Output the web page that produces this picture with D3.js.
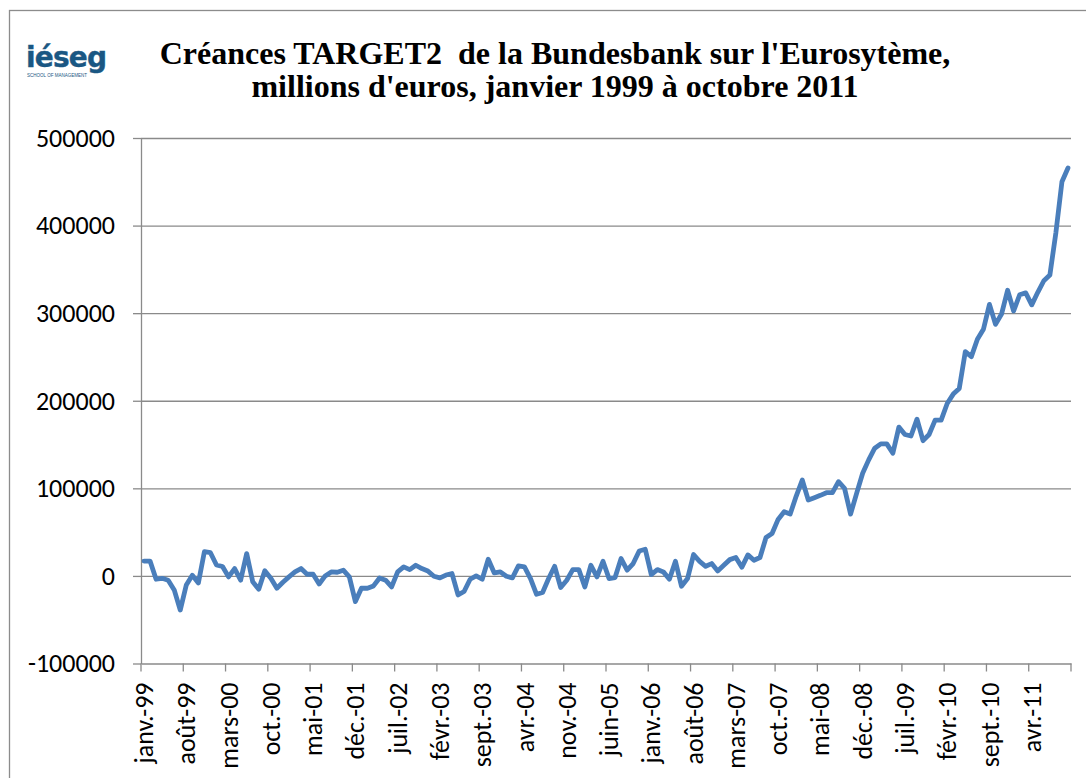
<!DOCTYPE html>
<html>
<head>
<meta charset="utf-8">
<script src="https://cdn.jsdelivr.net/npm/d3@7"></script>
<style>
    body { margin: 0; background: #fff; }
    .grid line { stroke: #8a8a8a; stroke-width: 1.3px; }
    .grid .domain { display: none; }
    .axis path, .axis line { stroke: #8a8a8a; stroke-width: 1.3px; }
    .axis text { font-family: Carlito, Calibri, Lato, sans-serif; font-size: 26px; fill: #000; }
    .title { font-family: "Liberation Serif", "Times New Roman", serif; font-weight: bold; font-size: 32px; fill: #000; white-space: pre; }
    .line { fill: none; stroke: #4a7ebb; stroke-width: 4.8px; stroke-linejoin: round; stroke-linecap: round; }
</style>
</head>
<body>
<svg id="chart"></svg>
<script>
// mois (format Excel mmm-yy)
const monthNames = ["janv.", "févr.", "mars", "avr.", "mai", "juin", "juil.", "août", "sept.", "oct.", "nov.", "déc."]
const years = ["99", "00", "01", "02", "03", "04", "05", "06", "07", "08", "09", "10", "11"]

// créances TARGET2, millions d'euros, janv. 1999 -> oct. 2011
const claims = [
    17000, 17000, -3800, -2700, -5000, -16000, -39000, -10300, 700, -8000, 27700, 26500,
    12500, 10700, -1100, 8400, -4900, 25500, -6700, -15200, 5900, -2700, -14100, -7300,
    -1100, 4600, 8400, 1900, 1900, -9200, 0, 4600, 4200, 6500, -1100, -29300,
    -14100, -14100, -11400, -2300, -4900, -12600, 4600, 10300, 7200, 12200, 8400, 5700,
    -400, -2300, 1000, 2700, -21700, -17800, -3800, 0, -3800, 19000, 3400, 4600,
    -400, -2300, 11400, 10300, -3000, -21000, -19000, -3000, 11000, -13300, -4900, 7200,
    7200, -12600, 12200, -1100, 16700, -3000, -1900, 19800, 6500, 14100, 28500, 30400,
    1500, 7200, 4600, -3800, 16700, -11800, -3000, 24400, 16700, 11000, 14100, 5700,
    12200, 18600, 21000, 10000, 24000, 17900, 21000, 43900, 48500, 64500, 73300, 70600,
    91200, 109500, 86600, 89300, 92000, 95000, 95000, 107600, 100000, 70600, 94300, 117200,
    132500, 145800, 150800, 150800, 140100, 169900, 161500, 159700, 179000, 154400, 161500, 177900,
    177900, 196900, 207600, 214100, 256100, 250400, 270200, 281700, 310000, 287200, 299000, 326200,
    302500, 321000, 323200, 309500, 323800, 337000, 343500, 392000, 450000, 465800
]

const yTicks = [-100000, 0, 100000, 200000, 300000, 400000, 500000]
const labelStep = 7

const categories = []
years.forEach(y => {
    monthNames.forEach(m => {
        if (categories.length < claims.length) categories.push(m + "-" + y)
    })
})

const width = 1086
const height = 778

const svg = d3.select("#chart")
    .attr("width", width)
    .attr("height", height)

// cadre
svg.append("rect")
    .attr("x", 9.5)
    .attr("y", 10.5)
    .attr("width", 1100)
    .attr("height", 800)
    .attr("fill", "#fff")
    .attr("stroke", "#8c8c8c")
    .attr("stroke-width", 1.3)

const x = d3.scaleBand()
    .domain(categories)
    .range([141, 1071])

const y = d3.scaleLinear()
    .domain([-100000, 500000])
    .range([663.5, 138])

// logo
svg.append("text")
    .attr("x", 26)
    .attr("y", 67)
    .attr("fill", "#1a5783")
    .attr("stroke", "#1a5783")
    .attr("stroke-width", 0.4)
    .style("font-family", "'DejaVu Sans', sans-serif")
    .style("font-weight", "bold")
    .style("font-size", "28px")
    .style("letter-spacing", "-0.8px")
    .text("iéseg")

svg.append("text")
    .attr("x", 27)
    .attr("y", 77)
    .attr("fill", "#1a5783")
    .attr("textLength", 60)
    .attr("lengthAdjust", "spacingAndGlyphs")
    .style("font-family", "'Liberation Sans', Arial, sans-serif")
    .style("font-size", "5px")
    .text("SCHOOL OF MANAGEMENT")

// titre
svg.append("text")
    .attr("class", "title")
    .attr("x", 555)
    .attr("y", 64)
    .attr("text-anchor", "middle")
    .text("Créances TARGET2  de la Bundesbank sur l'Eurosytème,")

svg.append("text")
    .attr("class", "title")
    .attr("x", 555)
    .attr("y", 97)
    .attr("text-anchor", "middle")
    .text("millions d'euros, janvier 1999 à octobre 2011")

// quadrillage
svg.append("g")
    .attr("class", "grid")
    .attr("transform", "translate(141,0)")
    .call(d3.axisLeft(y).tickValues(yTicks.slice(1)).tickSize(-930).tickFormat(""))

// axe vertical
svg.append("g")
    .attr("class", "axis")
    .attr("transform", "translate(141,0)")
    .call(d3.axisLeft(y).tickValues(yTicks).tickSize(8).tickSizeOuter(0).tickPadding(18).tickFormat(d => String(d)))

// axe horizontal
const xAxis = svg.append("g")
    .attr("class", "axis")
    .attr("transform", "translate(0,663.5)")
    .call(d3.axisBottom(x)
        .tickValues(categories.filter((d, i) => i % labelStep == 0))
        .tickSize(0)
        .tickSizeOuter(0))

xAxis.selectAll("text")
    .attr("transform", "rotate(-90)")
    .attr("x", -19)
    .attr("y", 0)
    .attr("dy", "0.35em")
    .style("text-anchor", "end")

// graduations entre les catégories
const tickPos = categories.filter((d, i) => i % labelStep == 0).map(d => x(d))
tickPos.push(x.range()[1])

xAxis.selectAll("line.cut")
    .data(tickPos)
    .enter()
    .append("line")
    .attr("class", "cut")
    .attr("x1", d => d)
    .attr("x2", d => d)
    .attr("y1", 0)
    .attr("y2", 8)

const line = d3.line()
    .x((d, i) => x(categories[i]) + x.bandwidth() / 2)
    .y(d => y(d))

svg.append("path")
    .datum(claims)
    .attr("class", "line")
    .attr("d", line)
</script>
</body>
</html>
